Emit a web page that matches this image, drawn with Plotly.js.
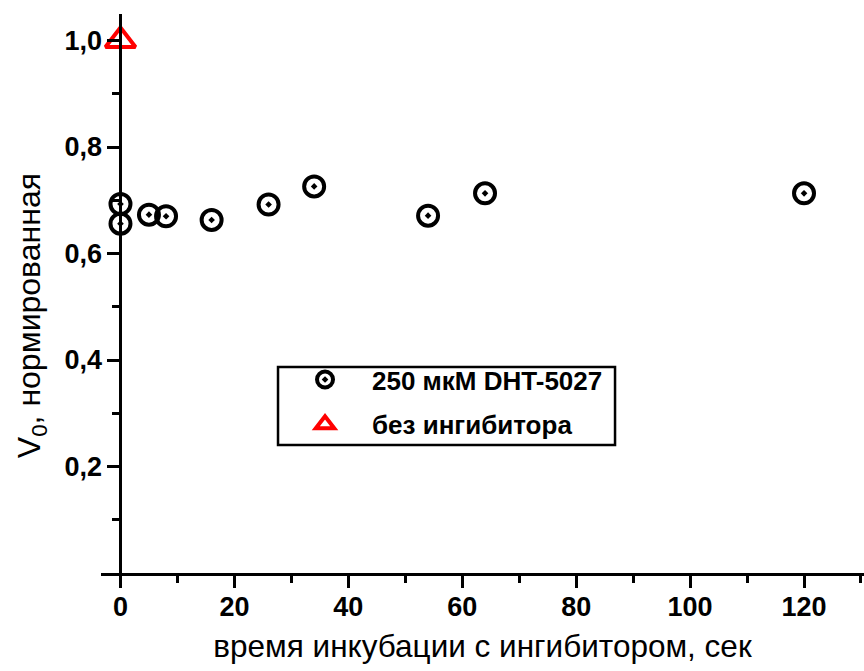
<!DOCTYPE html>
<html>
<head>
<meta charset="utf-8">
<script src="https://cdn.plot.ly/plotly-3.0.1.min.js"></script>
<style>
html,body{margin:0;padding:0;background:#fff;}
#chart{width:864px;height:671px;}
</style>
</head>
<body>
<div id="chart"></div>
<script>
// Data
const inhibitorTime = [0, 0, 5, 8, 16, 26, 34, 54, 64, 120];
const inhibitorV0   = [0.693, 0.656, 0.673, 0.670, 0.663, 0.692, 0.726, 0.671, 0.713, 0.713];
const controlTime = [0];
const controlV0   = [1.0];
const seriesNames = ['250 мкМ DHT-5027', 'без ингибитора'];
const xTickVals = [0, 20, 40, 60, 80, 100, 120];
const yTickVals = [0.2, 0.4, 0.6, 0.8, 1.0];

const FONT = '"Liberation Sans", Arial, sans-serif';
const xRange = [-3.42, 130.53];

const traces = [
  {
    x: inhibitorTime, y: inhibitorV0, name: seriesNames[0],
    type: 'scatter', mode: 'markers', legendgroup: 'a',
    marker: {symbol: 'circle-open-dot', size: 20, color: '#000', line: {width: 4, color: '#000'}}
  },
  {
    x: controlTime, y: controlV0, name: seriesNames[1],
    type: 'scatter', mode: 'markers', legendgroup: 'b',
    marker: {symbol: 'triangle-up-open', size: 26, color: '#ff0000', line: {width: 4, color: '#ff0000'}},
    cliponaxis: false
  }
];

const layout = {
  width: 864, height: 671,
  margin: {l: 101, r: 0, t: 14, b: 98, pad: 0},
  paper_bgcolor: '#fff', plot_bgcolor: '#fff',
  separators: ', ',
  font: {family: FONT, color: '#000', size: 26},
  showlegend: true,
  legend: {
    x: 0.232, y: 0.388, xanchor: 'left', yanchor: 'top',
    borderwidth: 0, bgcolor: 'rgba(0,0,0,0)',
    font: {family: FONT, size: 26, color: '#000', weight: 'bold'},
    itemwidth: 84, tracegroupgap: 8, traceorder: 'grouped'
  },
  shapes: [{
    type: 'rect', xref: 'paper', yref: 'paper',
    x0: 0.232, x1: 0.6737, y0: 0.229, y1: 0.3685,
    line: {color: '#000', width: 2.5}, fillcolor: 'rgba(0,0,0,0)', layer: 'below'
  }],
  xaxis: {
    range: xRange, showgrid: false, zeroline: false,
    showline: true, linewidth: 3, linecolor: '#000',
    tickvals: xTickVals, ticks: 'outside', ticklen: 12, tickwidth: 3, tickcolor: '#000',
    tickfont: {family: FONT, size: 27, weight: 'bold'},
    ticklabelstandoff: -4,
    minor: {dtick: 10, tick0: 0, ticks: 'outside', ticklen: 7, tickwidth: 3, tickcolor: '#000', showgrid: false},
    title: {text: 'время инкубации с ингибитором, сек', font: {family: FONT, size: 31.5}, standoff: 14}
  },
  yaxis: {
    range: [0, 1.0498], showgrid: false, zeroline: false,
    anchor: 'free', position: 3.42 / 133.95,
    showline: true, linewidth: 3, linecolor: '#000',
    tickvals: yTickVals, tickformat: '.1f',
    ticks: 'outside', ticklen: 12, tickwidth: 3, tickcolor: '#000',
    tickfont: {family: FONT, size: 27, weight: 'bold'},
    minor: {tickvals: [0.1, 0.3, 0.5, 0.7, 0.9], ticks: 'outside', ticklen: 7, tickwidth: 3, tickcolor: '#000', showgrid: false}
  },
  annotations: [{
    text: 'V<sub>0</sub>, нормированная', textangle: -90,
    xref: 'paper', yref: 'paper', x: -0.09, y: 0.46,
    xanchor: 'center', yanchor: 'middle', showarrow: false,
    font: {family: FONT, size: 32, color: '#000'}
  }]
};

Plotly.newPlot('chart', traces, layout, {staticPlot: true, displayModeBar: false});
</script>
</body>
</html>
